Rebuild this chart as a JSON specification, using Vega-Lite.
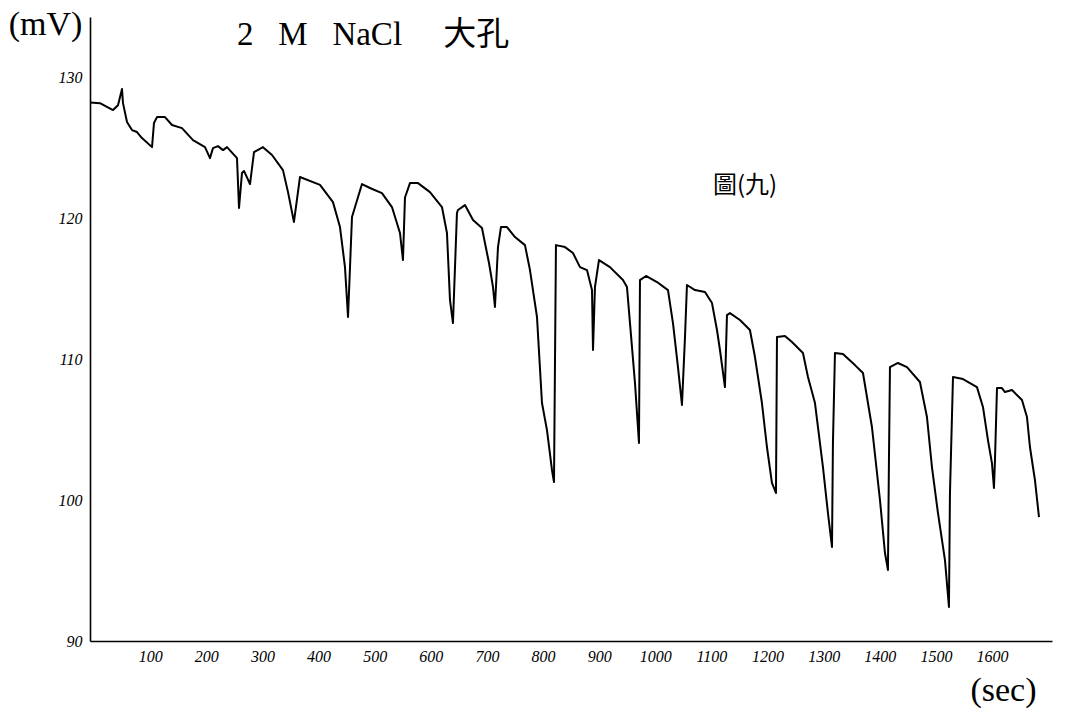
{
  "$schema": "https://vega.github.io/schema/vega-lite/v6.json",
  "width": 962,
  "height": 624,
  "autosize": {"type": "none"},
  "padding": {"left": 90, "top": 17, "right": 14, "bottom": 69},
  "background": "white",
  "config": {"view": {"stroke": null}},
  "datasets": {
    "curve": [
      {"t":0,"v":128.2},{"t":17.8,"v":128.15},{"t":41,"v":127.66},{"t":49.9,"v":128.0},{"t":57,"v":129.15},{"t":58.8,"v":128.15},
      {"t":65.9,"v":126.81},{"t":74.8,"v":126.24},{"t":83.7,"v":126.1},{"t":92.6,"v":125.67},{"t":110.5,"v":125.03},{"t":114,"v":126.74},
      {"t":119.4,"v":127.16},{"t":133.6,"v":127.16},{"t":146.1,"v":126.6},{"t":163.9,"v":126.38},{"t":183.5,"v":125.53},{"t":204.9,"v":125.03},
      {"t":213.8,"v":124.25},{"t":219.1,"v":124.96},{"t":228,"v":125.1},{"t":237,"v":124.82},{"t":244.1,"v":125.03},{"t":261.9,"v":124.25},
      {"t":265.5,"v":120.71},{"t":270.8,"v":123.2},{"t":274.4,"v":123.34},{"t":285.1,"v":122.41},{"t":292.2,"v":124.68},{"t":308.2,"v":125.03},
      {"t":324.3,"v":124.47},{"t":343.8,"v":123.4},{"t":352.8,"v":121.84},{"t":363.4,"v":119.72},{"t":374.1,"v":122.91},{"t":409.8,"v":122.35},
      {"t":432.9,"v":121.13},{"t":445.4,"v":119.36},{"t":454.3,"v":116.52},{"t":459.7,"v":112.98},{"t":466.8,"v":120.07},{"t":484.6,"v":122.41},
      {"t":498.8,"v":122.13},{"t":520.2,"v":121.77},{"t":538,"v":120.78},{"t":552.3,"v":118.94},{"t":557.6,"v":117.02},{"t":561.2,"v":121.46},
      {"t":570.1,"v":122.48},{"t":584.4,"v":122.48},{"t":605.7,"v":121.84},{"t":627.1,"v":120.78},{"t":636,"v":118.94},{"t":641.4,"v":114.18},
      {"t":646.7,"v":112.55},{"t":653.8,"v":120.35},{"t":655.6,"v":120.57},{"t":668.1,"v":120.92},{"t":682.4,"v":119.86},{"t":698.4,"v":119.29},
      {"t":703.7,"v":118.23},{"t":710.9,"v":116.81},{"t":718,"v":115.11},{"t":721.5,"v":113.69},{"t":726.9,"v":117.94},{"t":732.2,"v":119.36},
      {"t":742.9,"v":119.36},{"t":757.2,"v":118.65},{"t":775,"v":118.08},{"t":783.9,"v":116.31},{"t":796.4,"v":112.98},{"t":805.3,"v":106.88},
      {"t":814.2,"v":104.96},{"t":823.1,"v":102.13},{"t":826.7,"v":101.28},{"t":830.2,"v":118.08},{"t":846.3,"v":117.94},{"t":860.5,"v":117.52},
      {"t":873,"v":116.52},{"t":885.5,"v":116.31},{"t":890.8,"v":115.46},{"t":894.4,"v":114.89},{"t":896.2,"v":110.64},{"t":899.7,"v":115.11},
      {"t":906.8,"v":117.02},{"t":926.4,"v":116.52},{"t":949.6,"v":115.6},{"t":956.7,"v":115.11},{"t":962.1,"v":112.55},{"t":971,"v":108.3},
      {"t":978.1,"v":104.04},{"t":979.9,"v":115.6},{"t":990.6,"v":115.89},{"t":1010.2,"v":115.46},{"t":1029.8,"v":114.89},{"t":1038.7,"v":112.55},
      {"t":1047.6,"v":109.43},{"t":1054.7,"v":106.74},{"t":1060.1,"v":111.56},{"t":1063.6,"v":115.25},{"t":1077.9,"v":114.89},{"t":1095.7,"v":114.75},
      {"t":1108.2,"v":113.97},{"t":1117.1,"v":112.06},{"t":1122.4,"v":110.64},{"t":1131.3,"v":108.01},{"t":1134.9,"v":113.12},{"t":1140.2,"v":113.26},
      {"t":1158,"v":112.77},{"t":1175.8,"v":112.06},{"t":1184.8,"v":110.14},{"t":1197.2,"v":106.88},{"t":1206.1,"v":103.76},{"t":1215,"v":101.21},
      {"t":1222.2,"v":100.5},{"t":1224,"v":111.56},{"t":1238.2,"v":111.63},{"t":1250.7,"v":111.21},{"t":1270.3,"v":110.43},{"t":1279.2,"v":108.72},
      {"t":1291.7,"v":106.88},{"t":1305.9,"v":102.34},{"t":1314.8,"v":99.08},{"t":1322,"v":96.67},{"t":1323.7,"v":104.04},{"t":1327.3,"v":110.43},
      {"t":1341.5,"v":110.35},{"t":1362.9,"v":109.57},{"t":1377.2,"v":109.01},{"t":1393.2,"v":105.18},{"t":1407.5,"v":100.0},{"t":1416.4,"v":96.24},
      {"t":1421.7,"v":95.04},{"t":1423.5,"v":102.84},{"t":1425.3,"v":109.43},{"t":1439.5,"v":109.72},{"t":1455.6,"v":109.43},{"t":1478.7,"v":108.37},
      {"t":1491.2,"v":105.89},{"t":1500.1,"v":102.34},{"t":1510.8,"v":99.08},{"t":1523.3,"v":95.74},{"t":1530.4,"v":92.41},{"t":1532.2,"v":100.5},
      {"t":1537.6,"v":108.72},{"t":1555.4,"v":108.58},{"t":1580.3,"v":108.01},{"t":1591,"v":106.6},{"t":1599.9,"v":104.25},{"t":1607,"v":102.62},
      {"t":1610.6,"v":100.85},{"t":1612.4,"v":102.84},{"t":1616,"v":107.94},{"t":1624.8,"v":107.94},{"t":1630.2,"v":107.66},{"t":1642.7,"v":107.8},
      {"t":1660.5,"v":107.09},{"t":1669.4,"v":105.89},{"t":1674.7,"v":103.76},{"t":1683.6,"v":101.42},{"t":1690.8,"v":98.79}
    ],
    "notes": [
      {"t": 262, "v": 132.98, "label": "2\u00a0\u00a0\u00a0M\u00a0\u00a0\u00a0NaCl\u00a0\u00a0\u00a0\u00a0\u00a0大孔", "kind": "title"},
      {"t": 1110, "v": 122.27, "label": "圖(九)", "kind": "fig"}
    ]
  },
  "layer": [
    {
      "data": {"name": "curve"},
      "mark": {"type": "line", "color": "black", "strokeWidth": 2, "strokeJoin": "round", "clip": true},
      "encoding": {
        "x": {
          "field": "t", "type": "quantitative",
          "scale": {"domain": [0, 1714], "nice": false, "zero": false},
          "axis": {
            "values": [100,200,300,400,500,600,700,800,900,1000,1100,1200,1300,1400,1500,1600],
            "format": "d",
            "ticks": false, "grid": false,
            "domainColor": "black", "domainWidth": 1.6,
            "labelFont": "Liberation Serif", "labelFontStyle": "italic", "labelFontSize": 16,
            "labelColor": "black", "labelPadding": 7, "labelOffset": 4,
            "title": "(sec)", "titleFont": "Liberation Serif", "titleFontSize": 34, "titleFontWeight": "normal",
            "titleColor": "black", "titleX": 913, "titleY": 49, "titleAlign": "center", "titleBaseline": "middle", "titleAngle": 0
          }
        },
        "y": {
          "field": "v", "type": "quantitative",
          "scale": {"domain": [90, 134.26], "nice": false, "zero": false},
          "axis": {
            "values": [90,100,110,120,130],
            "format": "d",
            "ticks": false, "grid": false,
            "domainColor": "black", "domainWidth": 1.6,
            "labelFont": "Liberation Serif", "labelFontStyle": "italic", "labelFontSize": 16,
            "labelColor": "black", "labelPadding": 8,
            "title": "(mV)", "titleFont": "Liberation Serif", "titleFontSize": 34, "titleFontWeight": "normal",
            "titleColor": "black", "titleX": -45, "titleY": 7, "titleAlign": "center", "titleBaseline": "middle", "titleAngle": 0
          }
        }
      }
    },
    {
      "data": {"name": "notes"},
      "transform": [{"filter": "datum.kind == 'title'"}],
      "mark": {"type": "text", "align": "left", "baseline": "middle", "fontSize": 33, "font": "Liberation Serif, Noto Sans CJK TC", "color": "black"},
      "encoding": {
        "x": {"field": "t", "type": "quantitative"},
        "y": {"field": "v", "type": "quantitative"},
        "text": {"field": "label"}
      }
    },
    {
      "data": {"name": "notes"},
      "transform": [{"filter": "datum.kind == 'fig'"}],
      "mark": {"type": "text", "align": "left", "baseline": "middle", "fontSize": 24, "font": "Noto Sans CJK TC", "color": "black"},
      "encoding": {
        "x": {"field": "t", "type": "quantitative"},
        "y": {"field": "v", "type": "quantitative"},
        "text": {"field": "label"}
      }
    }
  ]
}
